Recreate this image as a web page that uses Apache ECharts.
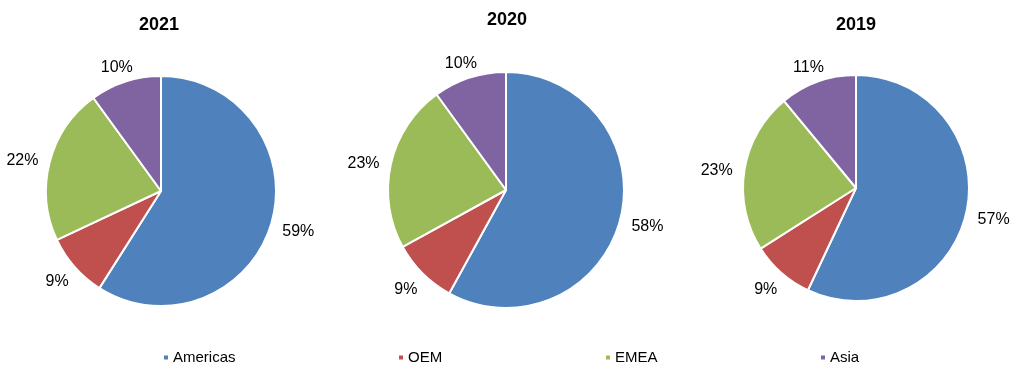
<!DOCTYPE html>
<html>
<head>
<meta charset="utf-8">
<script src="https://cdn.jsdelivr.net/npm/echarts@6/dist/echarts.min.js"></script>
<style>html,body{margin:0;padding:0;background:#fff}#c{width:1018px;height:381px}</style>
</head>
<body>
<div id="c"></div>
<script>
var categories = ['Americas', 'OEM', 'EMEA', 'Asia'];
var years = ['2021', '2020', '2019'];
var values2021 = [59, 9, 22, 10];
var values2020 = [58, 9, 23, 10];
var values2019 = [57, 9, 23, 11];
var colors = ['#4F81BD', '#C0504D', '#9BBB59', '#8064A2'];

var FONT = '"Liberation Sans", Arial, sans-serif';
var chart = echarts.init(document.getElementById('c'), null, {renderer: 'canvas'});

var layouts = [
  {center: [161, 191], r: 115, tx: 159, ty: 16},
  {center: [506, 190], r: 118, tx: 507, ty: 11},
  {center: [856, 188], r: 113, tx: 856, ty: 16}
];
var allValues = [values2021, values2020, values2019];
var LABEL_GAP = 12;   // radial distance from circle to the label anchor point
var GLYPH_HALF_H = 6; // half of digit glyph height
var GLYPH_SHIFT_Y = 3; // visual baseline correction

function mkData(vals) {
  return categories.map(function (c, i) { return {name: c, value: vals[i]}; });
}

// Excel "outside end" style: anchor point just outside the circle on the slice mid-angle,
// label box pushed outward from the anchor by half its size along the direction.
function makeLabelLayout(k) {
  return function (params) {
    var vals = allValues[k];
    var L = layouts[k];
    var total = vals.reduce(function (a, b) { return a + b; }, 0);
    var cum = 0;
    for (var i = 0; i < params.dataIndex; i++) cum += vals[i];
    var theta = 2 * Math.PI * (cum + vals[params.dataIndex] / 2) / total;
    var dx = Math.sin(theta), dy = -Math.cos(theta);
    var a = params.labelRect.width / 2, b = GLYPH_HALF_H;
    var px = L.center[0] + (L.r + LABEL_GAP) * dx;
    var py = L.center[1] + (L.r + LABEL_GAP) * dy;
    return {
      x: px + dx * a,
      y: py + dy * b + GLYPH_SHIFT_Y,
      align: 'center',
      verticalAlign: 'middle'
    };
  };
}

var series = allValues.map(function (vals, k) {
  var L = layouts[k];
  return {
    type: 'pie',
    center: L.center,
    radius: L.r,
    startAngle: 90,
    clockwise: true,
    animation: false,
    silent: true,
    avoidLabelOverlap: false,
    data: mkData(vals),
    itemStyle: {borderColor: '#fff', borderWidth: 2},
    label: {
      show: true, position: 'outside', formatter: '{c}%',
      overflow: 'none', edgeDistance: 0, bleedMargin: 0,
      fontFamily: FONT, fontSize: 16, color: '#000'
    },
    labelLine: {show: false, length: 12, length2: 0},
    labelLayout: makeLabelLayout(k),
    emphasis: {disabled: true}
  };
});

var titles = years.map(function (y, k) {
  return {
    text: y, left: layouts[k].tx, top: layouts[k].ty, textAlign: 'center', padding: 0,
    textStyle: {fontFamily: FONT, fontSize: 18, fontWeight: 'bold', color: '#000'}
  };
});

var legendLefts = [162, 397, 604, 819];
var legends = categories.map(function (c, i) {
  return {
    data: [c], left: legendLefts[i], top: 350, padding: 0,
    icon: 'rect', itemWidth: 6, itemHeight: 6, itemGap: 4,
    selectedMode: false,
    textStyle: {fontFamily: FONT, fontSize: 15, color: '#000', padding: [0, 0, 0, -1]}
  };
});

chart.setOption({
  color: colors,
  animation: false,
  title: titles,
  legend: legends,
  series: series
});
</script>
</body>
</html>
